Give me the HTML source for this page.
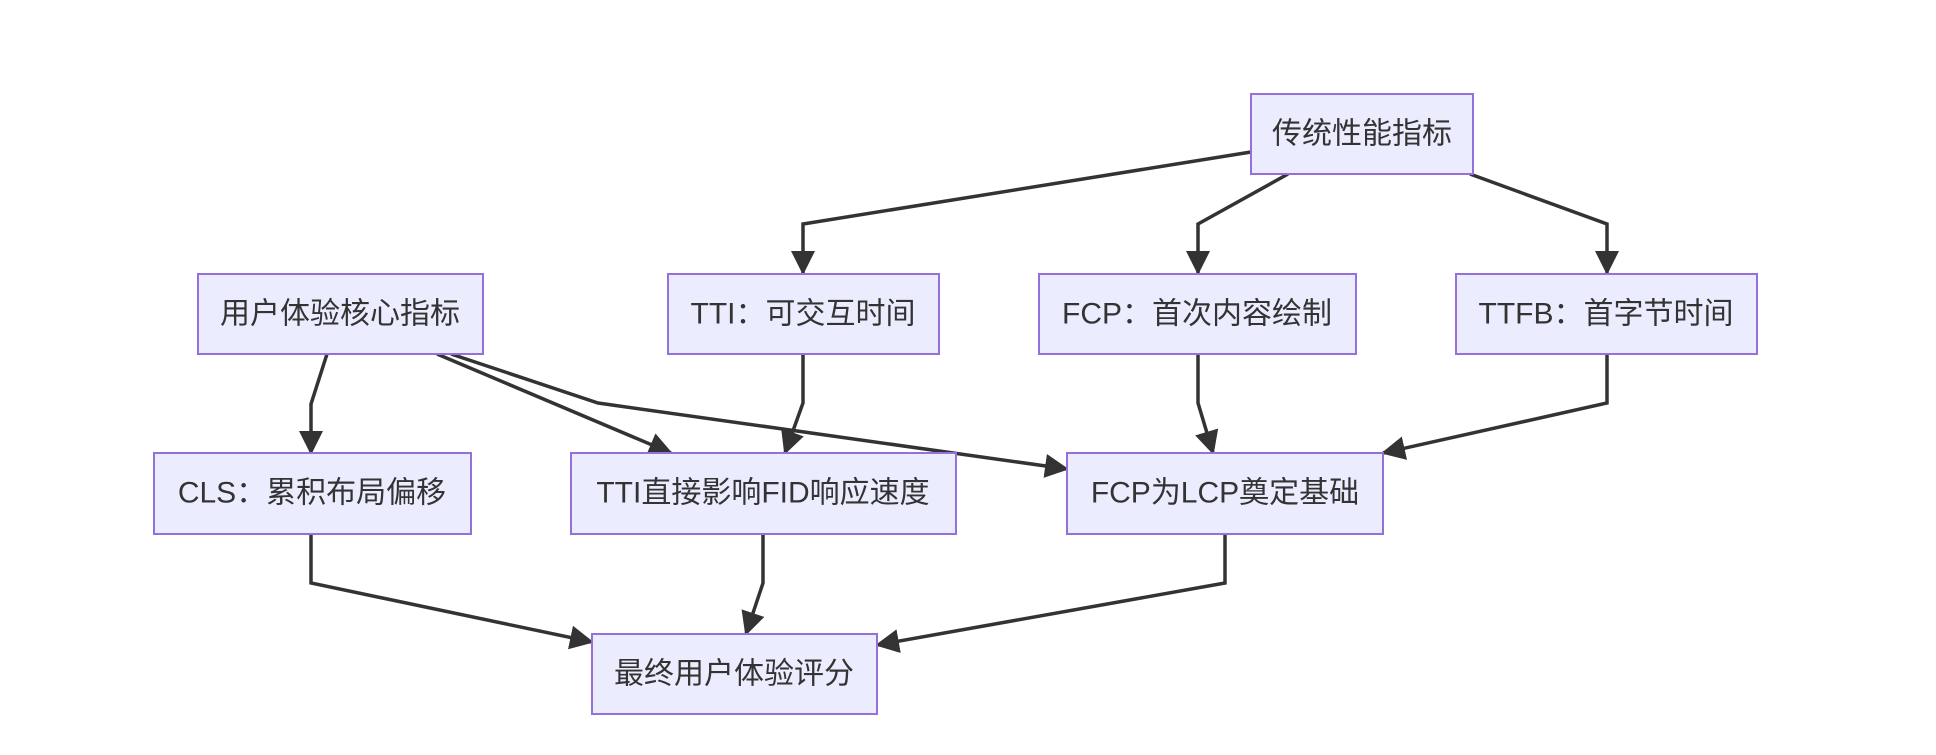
<!DOCTYPE html>
<html><head><meta charset="utf-8"><style>
html,body{margin:0;padding:0;background:#fff;}
svg text{font-family:"Liberation Sans","Noto Sans CJK SC",sans-serif;font-size:30px;fill:#333;}
</style></head><body>
<svg width="1936" height="750" viewBox="0 0 1936 750" xmlns="http://www.w3.org/2000/svg">
<defs><marker id="a" viewBox="0 0 10 10" refX="9" refY="5" markerWidth="8" markerHeight="8" markerUnits="userSpaceOnUse" orient="auto"><path d="M0,0L10,5L0,10z" fill="#333"/></marker>
<marker id="b" viewBox="0 0 12 12" refX="11" refY="6" markerWidth="24" markerHeight="24" markerUnits="userSpaceOnUse" orient="auto"><path d="M0,0L12,6L0,12z" fill="#333"/></marker></defs>
<g fill="none" stroke="#333" stroke-width="3.5">
<polyline points="1251,152 803,224 803,273" marker-end="url(#b)"/>
<polyline points="1288,174 1198,224 1198,273" marker-end="url(#b)"/>
<polyline points="1470,174 1607,224 1607,273" marker-end="url(#b)"/>
<polyline points="327,354 311,404 311,453" marker-end="url(#b)"/>
<polyline points="437,354 671,453" marker-end="url(#b)"/>
<polyline points="451,354 598,403 1067,469" marker-end="url(#b)"/>
<polyline points="803,354 803,403 785,453" marker-end="url(#b)"/>
<polyline points="1198,354 1198,403 1213,453" marker-end="url(#b)"/>
<polyline points="1607,354 1607,403 1383,453" marker-end="url(#b)"/>
<polyline points="311,534 311,583 592,642" marker-end="url(#b)"/>
<polyline points="763,534 763,583 746,634" marker-end="url(#b)"/>
<polyline points="1225,534 1225,583 877,645" marker-end="url(#b)"/>
</g>
<g fill="#ECECFF" stroke="#9370DB" stroke-width="2">
<rect x="1251" y="94" width="222" height="80"/>
<rect x="198" y="274" width="285" height="80"/>
<rect x="668" y="274" width="271" height="80"/>
<rect x="1039" y="274" width="317" height="80"/>
<rect x="1456" y="274" width="301" height="80"/>
<rect x="154" y="453" width="317" height="81"/>
<rect x="571" y="453" width="385" height="81"/>
<rect x="1067" y="453" width="316" height="81"/>
<rect x="592" y="634" width="285" height="80"/>
</g>
<g text-anchor="middle" dominant-baseline="central">
<text x="1362" y="134">传统性能指标</text>
<text x="340" y="314">用户体验核心指标</text>
<text x="803" y="314">TTI：可交互时间</text>
<text x="1197" y="314">FCP：首次内容绘制</text>
<text x="1606" y="314">TTFB：首字节时间</text>
<text x="312" y="493">CLS：累积布局偏移</text>
<text x="763" y="493">TTI直接影响FID响应速度</text>
<text x="1225" y="493">FCP为LCP奠定基础</text>
<text x="734" y="674">最终用户体验评分</text>
</g>
</svg>
</body></html>
